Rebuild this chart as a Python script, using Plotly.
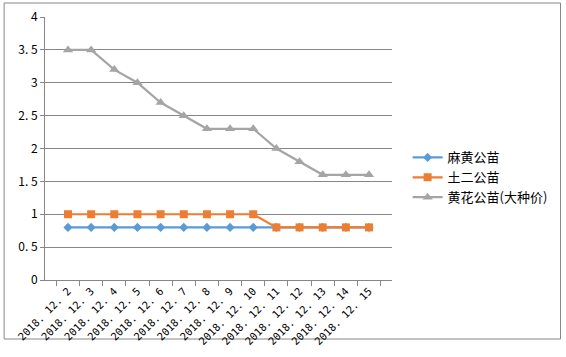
import plotly.graph_objects as go

categories = ["2018.12.2", "2018.12.3", "2018.12.4", "2018.12.5", "2018.12.6", "2018.12.7",
              "2018.12.8", "2018.12.9", "2018.12.10", "2018.12.11", "2018.12.12", "2018.12.13",
              "2018.12.14", "2018.12.15"]
tick_labels = ["2018. 12. 2", "2018. 12. 3", "2018. 12. 4", "2018. 12. 5", "2018. 12. 6", "2018. 12. 7",
               "2018. 12. 8", "2018. 12. 9", "2018. 12. 10", "2018. 12. 11", "2018. 12. 12", "2018. 12. 13",
               "2018. 12. 14", "2018. 12. 15"]
mahuang = [0.8] * 14
tuer = [1, 1, 1, 1, 1, 1, 1, 1, 1, 0.8, 0.8, 0.8, 0.8, 0.8]
huanghua = [3.5, 3.5, 3.2, 3.0, 2.7, 2.5, 2.3, 2.3, 2.3, 2.0, 1.8, 1.6, 1.6, 1.6]
y_ticks = [0, 0.5, 1, 1.5, 2, 2.5, 3, 3.5, 4]
y_tick_text = ["0", "0. 5", "1", "1. 5", "2", "2. 5", "3", "3. 5", "4"]

font = "Noto Sans CJK SC"
tick_font = "DejaVu Sans Mono"

fig = go.Figure()
fig.add_trace(go.Scatter(x=categories, y=mahuang, name="麻黄公苗", mode="lines+markers",
                         line=dict(color="#5B9BD5", width=2.2),
                         marker=dict(symbol="diamond", size=7, color="#5B9BD5")))
fig.add_trace(go.Scatter(x=categories, y=tuer, name="土二公苗", mode="lines+markers",
                         line=dict(color="#ED7D31", width=2.2),
                         marker=dict(symbol="square", size=8, color="#ED7D31")))
fig.add_trace(go.Scatter(x=categories, y=huanghua, name="黄花公苗(大种价)", mode="lines+markers",
                         line=dict(color="#A5A5A5", width=2.2),
                         marker=dict(symbol="triangle-up", size=9, color="#A5A5A5")))

fig.update_layout(
    width=566, height=357,
    margin=dict(l=45, r=174, t=17, b=77),
    paper_bgcolor="white", plot_bgcolor="white",
    font=dict(family=font, size=12, color="#000000"),
    legend=dict(x=1.045, y=0.39, xanchor="left", yanchor="middle",
                font=dict(family=font, size=13), itemwidth=30),
    showlegend=True,
)
fig.update_xaxes(type="category", tickvals=categories, ticktext=tick_labels, tickangle=-45,
                 automargin=False,
                 showline=True, linecolor="#868686", linewidth=1,
                 ticks="outside", tickson="boundaries", ticklen=5, tickcolor="#868686",
                 showgrid=False, tickfont=dict(size=10.5, family=tick_font))
fig.update_yaxes(range=[0, 4], tickvals=y_ticks, ticktext=y_tick_text, automargin=False,
                 showline=True, linecolor="#868686", linewidth=1,
                 ticks="outside", ticklen=4, tickcolor="#868686",
                 showgrid=True, gridcolor="#868686", gridwidth=1,
                 zeroline=False, tickfont=dict(size=12, family=font))

fig.add_shape(type="rect", xref="paper", yref="paper",
              x0=-41/348, x1=517/348, y0=-59/263, y1=(280-3)/263,
              line=dict(color="#868686", width=1), fillcolor="rgba(0,0,0,0)", layer="below")

fig.write_html("out.html", config={"displayModeBar": False},
               post_script="document.body.style.margin='0';document.body.style.padding='0';")
